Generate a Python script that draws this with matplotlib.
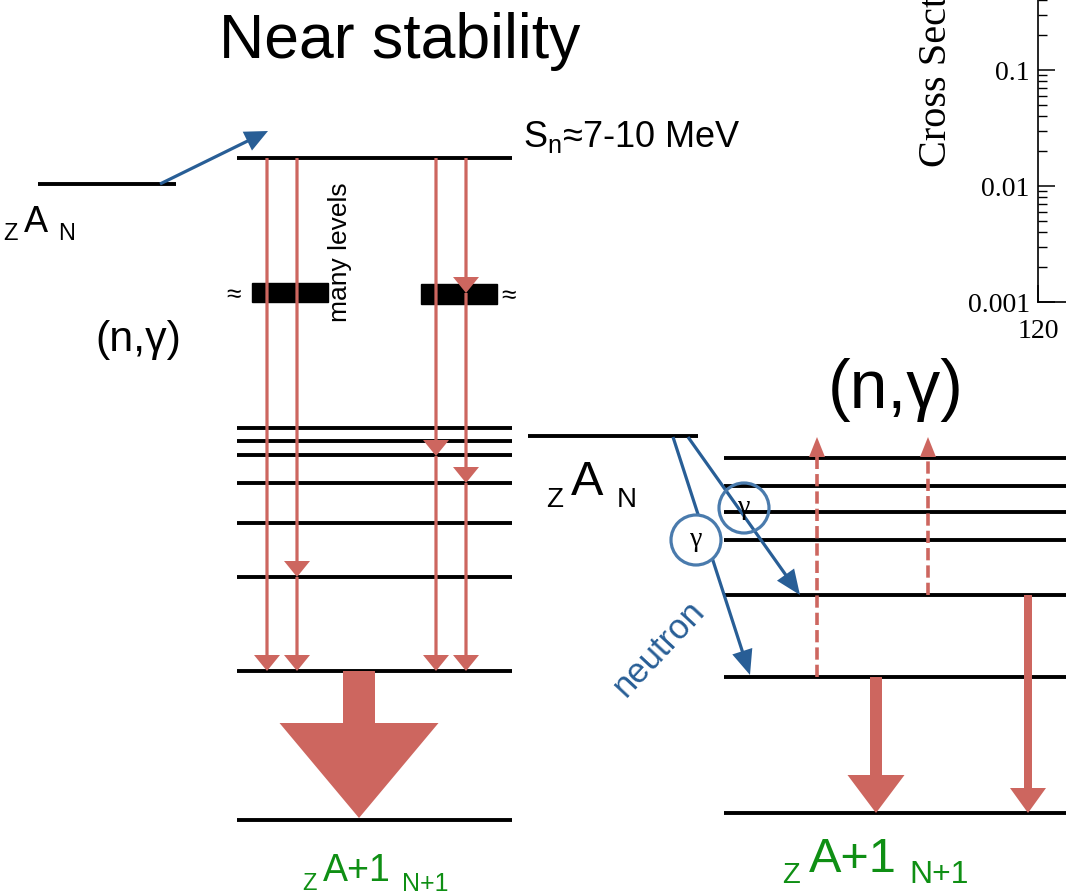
import matplotlib
matplotlib.use("Agg")
import matplotlib.pyplot as plt
from matplotlib.patches import FancyArrow, Rectangle, Circle, Polygon
from matplotlib.ticker import FixedLocator, FuncFormatter, LogLocator

plt.rcParams['font.family'] = ['Liberation Sans', 'DejaVu Sans']

# colours
RED = '#cd665f'
BLUE = '#285e96'
CIRCLE_BLUE = '#4a7bad'
GREEN = '#0f8f14'

# ---- left scheme: near stability (pixel units, y grows downwards) ----
left_span = (237, 512)
target_left_y = 184
target_left_span = (38, 176)
sn_level_y = 158
left_levels_y = [428, 441, 455, 483, 523, 577, 671]
left_ground_y = 820
# each cascade: x position and the levels it stops at
left_cascades = [
    (267, [158, 671]),
    (297, [158, 577, 671]),
    (436, [158, 456, 671]),
    (466, [158, 293, 483, 671]),
]
level_bands = [(252, 283, 76, 19), (421, 284, 76, 20)]

# ---- right scheme ----
right_span = (724, 1066)
target_right_y = 436
target_right_span = (528, 698)
right_levels_y = [458, 486, 512, 540, 595, 677]
right_ground_y = 813
neutron_arrows = [((673, 437), (750, 675)), ((688, 437), (800, 595))]
gamma_circles = [(696, 540, True), (744, 508, False)]
dashed_up = [(817, 677, 437), (928, 595, 437)]
decay_arrows = [(876, 677, 813, 12, 57, 38), (1028, 595, 813, 8, 36, 25)]

# ---- cross-section inset fragment ----
cs_ylim = (0.001, 1)
cs_ticks = [0.001, 0.01, 0.1]
cs_xtick = [120]

fig = plt.figure(figsize=(10.66, 8.94), dpi=100)
ax = fig.add_axes([0, 0, 1, 1])
ax.set_xlim(0, 1066)
ax.set_ylim(894, 0)
ax.axis('off')


def level(x0, x1, y):
    ax.plot([x0, x1], [y, y], color='black', lw=2.8, solid_capstyle='butt', zorder=2)


def arrow(x0, y0, x1, y1, w, hw, hl, color, z=3):
    ax.add_patch(FancyArrow(x0, y0, x1 - x0, y1 - y0, width=w, head_width=hw,
                            head_length=hl, length_includes_head=True,
                            color=color, lw=0, zorder=z))


# left levels
level(*target_left_span, target_left_y)
level(*left_span, sn_level_y)
for y in left_levels_y:
    level(*left_span, y)
level(*left_span, left_ground_y)
for (bx, by, bw, bh) in level_bands:
    ax.add_patch(Rectangle((bx, by), bw, bh, color='black', zorder=2))
ax.text(234, 295, '≈', fontsize=19, ha='center', va='center')
ax.text(509, 296, '≈', fontsize=19, ha='center', va='center')

# gamma cascades
for x, stops in left_cascades:
    for y0, y1 in zip(stops[:-1], stops[1:]):
        arrow(x, y0, x, y1, 3.2, 26, 16, RED)

# big arrow to ground
arrow(359, 671, 359, 818, 32, 159, 95, RED)

# neutron capture arrow
arrow(160, 184, 268, 131, 3.2, 21, 23, BLUE, z=4)

ax.text(400, 58, 'Near stability', fontsize=45, ha='center', va='baseline')
ax.text(523, 147, r'S$_{\mathregular{n}}$≈7-10 MeV', fontsize=26, ha='left', va='baseline')
ax.text(340, 252, 'many levels', fontsize=19, rotation=90, ha='center', va='center')
ax.text(138, 340, '(n,γ)', fontsize=31, ha='center', va='center')

ax.text(3, 240, 'Z', fontsize=17, va='baseline')
ax.text(24, 232, 'A', fontsize=26, va='baseline')
ax.text(58, 240, 'N', fontsize=17, va='baseline')

ax.text(302, 890, 'Z', fontsize=17, va='baseline', color=GREEN)
ax.text(323, 881, 'A+1', fontsize=27, va='baseline', color=GREEN)
ax.text(402, 891, 'N+1', fontsize=18, va='baseline', color=GREEN)

# right levels
level(*target_right_span, target_right_y)
for y in right_levels_y:
    level(*right_span, y)
level(*right_span, right_ground_y)

for (x0, y0), (x1, y1) in neutron_arrows:
    arrow(x0, y0, x1, y1, 3.2, 21, 25, BLUE, z=4)

for cx, cy, filled in gamma_circles:
    ax.add_patch(Circle((cx, cy), 25, facecolor='white' if filled else 'none',
                        edgecolor=CIRCLE_BLUE, lw=2.3, zorder=5))
    ax.text(cx, cy, 'γ', fontsize=20, family='Liberation Serif',
            ha='center', va='center', zorder=6)

for x, y0, tip in dashed_up:
    hl = 20
    ax.plot([x, x], [y0, tip + hl], color=RED, lw=2.6, ls=(0, (3.4, 1.4)), zorder=3)
    ax.add_patch(Polygon([(x - 8, tip + hl), (x + 8, tip + hl), (x, tip)],
                         closed=True, color=RED, lw=0, zorder=3))

for x, y0, y1, w, hw, hl in decay_arrows:
    arrow(x, y0, x, y1, w, hw, hl, RED)

ax.text(896, 390, '(n,γ)', fontsize=49, ha='center', va='center')
ax.text(659, 648, 'neutron', fontsize=25, rotation=47, color=BLUE,
        ha='center', va='center', rotation_mode='anchor')

ax.text(546, 507, 'Z', fontsize=20, va='baseline')
ax.text(571, 495, 'A', fontsize=35, va='baseline')
ax.text(617, 507, 'N', fontsize=20, va='baseline')

ax.text(782, 883, 'Z', fontsize=21, va='baseline', color=GREEN)
ax.text(809, 872, 'A+1', fontsize=35, va='baseline', color=GREEN)
ax.text(909, 883, 'N+1', fontsize=23, va='baseline', color=GREEN)

# fragment of a cross-section plot at the top right
W, H = 1066, 894
cax = fig.add_axes([1038 / W, (H - 302) / H, 300 / W, 348 / H])
cax.patch.set_alpha(0)
cax.set_yscale('log')
cax.set_ylim(*cs_ylim)
cax.set_xlim(120, 200)
cax.set_xticks(cs_xtick)
cax.yaxis.set_major_locator(FixedLocator(cs_ticks))
cax.yaxis.set_minor_locator(LogLocator(base=10, subs=range(2, 10)))
cax.yaxis.set_major_formatter(FuncFormatter(lambda v, p: f'{v:g}'))
cax.yaxis.set_minor_formatter(FuncFormatter(lambda v, p: ''))
cax.tick_params(which='major', direction='in', length=12, width=1.1, labelsize=20, pad=6)
cax.tick_params(which='minor', direction='in', length=6.5, width=1.0)
cax.tick_params(axis='x', pad=12)
for lab in cax.get_xticklabels() + cax.get_yticklabels():
    lab.set_family('Liberation Serif')
for sp in cax.spines.values():
    sp.set_linewidth(1.2)
ax.text(937, 167, 'Cross Section (mb)', fontsize=29, rotation=90,
        family='Liberation Serif', ha='center', va='bottom')

fig.savefig('out.png', dpi=100)
